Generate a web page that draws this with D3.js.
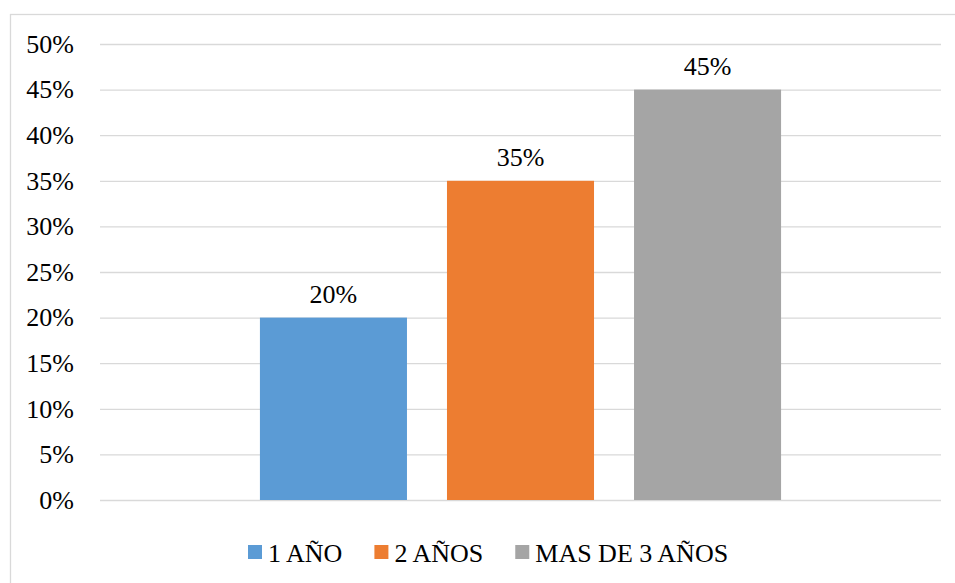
<!DOCTYPE html>
<html>
<head>
<meta charset="utf-8">
<script src="https://cdn.jsdelivr.net/npm/d3@7"></script>
<style>
  html, body { margin: 0; padding: 0; background: #fff; }
  svg { display: block; }
  svg text { font-family: "Liberation Serif", "Times New Roman", Times, serif !important; }
</style>
</head>
<body>
<svg id="chart" width="955" height="583"></svg>
<script>
// Data
const series = ["1 AÑO", "2 AÑOS", "MAS DE 3 AÑOS"];
const values = [0.20, 0.35, 0.45];
const colors = ["#5B9BD5", "#ED7D31", "#A5A5A5"];
const yTicks = [0, 0.05, 0.10, 0.15, 0.20, 0.25, 0.30, 0.35, 0.40, 0.45, 0.50];

const svg = d3.select("#chart");
const plot = { left: 100, right: 941, top: 44, bottom: 500 };
const fontSize = 26;
const serif = "'Liberation Serif', 'Times New Roman', Times, serif";

// Chart frame
svg.append("rect")
  .attr("x", 10.5).attr("y", 14.5)
  .attr("width", 980).attr("height", 620)
  .attr("fill", "#fff").attr("stroke", "#D9D9D9").attr("stroke-width", 1.3);

const y = d3.scaleLinear().domain([0, 0.5]).range([plot.bottom, plot.top]);
const x = d3.scaleBand()
  .domain(series)
  .range([plot.left, plot.right])
  .paddingInner(0.2139)
  .paddingOuter(0.855);

const fmt = d3.format(".0%");

// Gridlines + tick labels via axis
const yAxis = d3.axisLeft(y)
  .tickValues(yTicks)
  .tickFormat(fmt)
  .tickSize(-(plot.right - plot.left))
  .tickPadding(26);

const gAxis = svg.append("g")
  .attr("transform", `translate(${plot.left},0)`)
  .call(yAxis)
  .attr("font-family", serif);
gAxis.select(".domain").remove();
gAxis.selectAll(".tick line")
  .attr("stroke", "#D9D9D9").attr("stroke-width", 1.3);
gAxis.selectAll(".tick text")
  .attr("fill", "#000")
  .attr("font-size", fontSize)
  .attr("font-family", serif);

// Bars
svg.append("g").selectAll("rect")
  .data(series)
  .join("rect")
  .attr("x", d => x(d))
  .attr("width", x.bandwidth())
  .attr("y", (d, i) => y(values[i]))
  .attr("height", (d, i) => y(0) - y(values[i]))
  .attr("fill", (d, i) => colors[i]);

// Value labels
svg.append("g").selectAll("text")
  .data(series)
  .join("text")
  .attr("x", d => x(d) + x.bandwidth() / 2)
  .attr("y", (d, i) => y(values[i]) - 15)
  .attr("text-anchor", "middle")
  .attr("font-size", fontSize)
  .attr("font-family", serif)
  .attr("fill", "#000")
  .text((d, i) => fmt(values[i]));

// Legend
const legend = svg.append("g");
let lx = 248;
const ly = 562;
series.forEach((s, i) => {
  legend.append("rect")
    .attr("x", lx).attr("y", ly - 17)
    .attr("width", 14).attr("height", 14)
    .attr("fill", colors[i]);
  const t = legend.append("text")
    .attr("x", lx + 20).attr("y", ly)
    .attr("font-size", fontSize)
    .attr("font-family", serif)
    .attr("fill", "#000")
    .text(s);
  lx = lx + 20 + t.node().getComputedTextLength() + 32;
});
</script>
</body>
</html>
